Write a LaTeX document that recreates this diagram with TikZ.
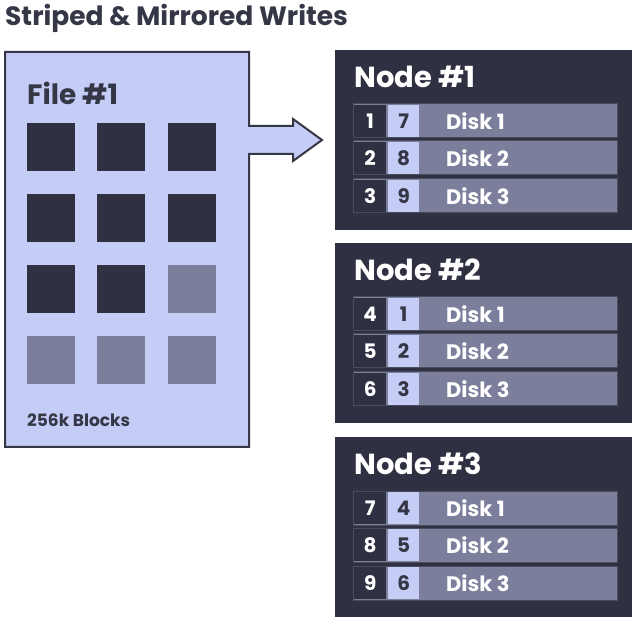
\documentclass[tikz,border=0pt]{standalone}
\usepackage{fontspec}
\setmainfont{Poppins}
\definecolor{ink}{HTML}{353746}
\definecolor{panel}{HTML}{2F3142}
\definecolor{lav}{HTML}{C5CDF7}
\definecolor{slate}{HTML}{7C7F9C}
\definecolor{barline}{HTML}{4A4C60}
\tikzset{
  blk/.style={minimum size=48pt, inner sep=0pt, draw=none},
  panelbox/.style={fill=panel, draw=none, minimum width=297pt, minimum height=180pt, inner sep=0pt},
  bar/.style={fill=slate, draw=barline, line width=1pt, minimum width=264pt, minimum height=34pt, inner sep=0pt},
  darksq/.style={fill=panel, draw=none, minimum width=32pt, minimum height=32pt, inner sep=0pt, text=white, font=\bfseries\fontsize{20}{20}\selectfont},
  lightsq/.style={fill=lav, draw=none, minimum width=31pt, minimum height=32pt, inner sep=0pt, text=ink, font=\bfseries\fontsize{20}{20}\selectfont},
  disklbl/.style={anchor=west, text=white, inner sep=0pt, font=\bfseries\fontsize{21}{21}\selectfont},
  paneltitle/.style={anchor=west, text=white, inner sep=0pt, font=\bfseries\fontsize{29}{29}\selectfont},
}
\begin{document}
\begin{tikzpicture}[x=1pt,y=-1pt]
\useasboundingbox (0,0) rectangle (632,617);
\fill[white] (0,0) rectangle (632,617);
% title
\node[anchor=west, text=ink, inner sep=0pt, font=\bfseries\fontsize{26.5}{26.5}\selectfont] (title) at (5,18) {Striped \& Mirrored Writes};
% file box with arrow
\draw[fill=lav, draw=ink, line width=2pt, line join=miter]
  (5,52) -- (249,52) -- (249,126) -- (293,126) -- (293,119) -- (322,140) -- (293,161) -- (293,154) -- (249,154) -- (249,447) -- (5,447) -- cycle;
\node[anchor=west, text=ink, inner sep=0pt, font=\bfseries\fontsize{28}{28}\selectfont] (filelbl) at (27,93) {File \#1};
\foreach \r/\y in {1/147,2/218,3/289,4/360}{
  \foreach \c/\x in {1/51,2/121,3/192}{
    \pgfmathtruncatemacro{\idx}{(\r-1)*3+\c}
    \ifnum\idx>8
      \node[blk, fill=slate] (b\r\c) at (\x,\y) {};
    \else
      \node[blk, fill=panel] (b\r\c) at (\x,\y) {};
    \fi
  }
}
\node[anchor=west, text=ink, inner sep=0pt, font=\bfseries\fontsize{17}{17}\selectfont] (blocks) at (27,420) {256k Blocks};
% panels
\foreach \n/\top/\a/\b/\c/\d/\e/\f in {1/50/1/7/2/8/3/9, 2/243/4/1/5/2/6/3, 3/437/7/4/8/5/9/6}{
  \node[panelbox, anchor=north west] (p\n) at (335,\top) {};
  \node[paneltitle] (pt\n) at (354,\top+27) {Node \#\n};
  \foreach \k/\off/\x/\yy in {1/71/\a/\b, 2/108/\c/\d, 3/146/\e/\f}{
    \node[bar, anchor=west] (bar\n\k) at (353,\top+\off) {};
    \node[darksq, anchor=west] (ds\n\k) at (354,\top+\off) {\x};
    \node[lightsq, anchor=west] (ls\n\k) at (388,\top+\off) {\yy};
    \node[disklbl] (dl\n\k) at (446,\top+\off) {Disk \k};
  }
}
\end{tikzpicture}
\end{document}
